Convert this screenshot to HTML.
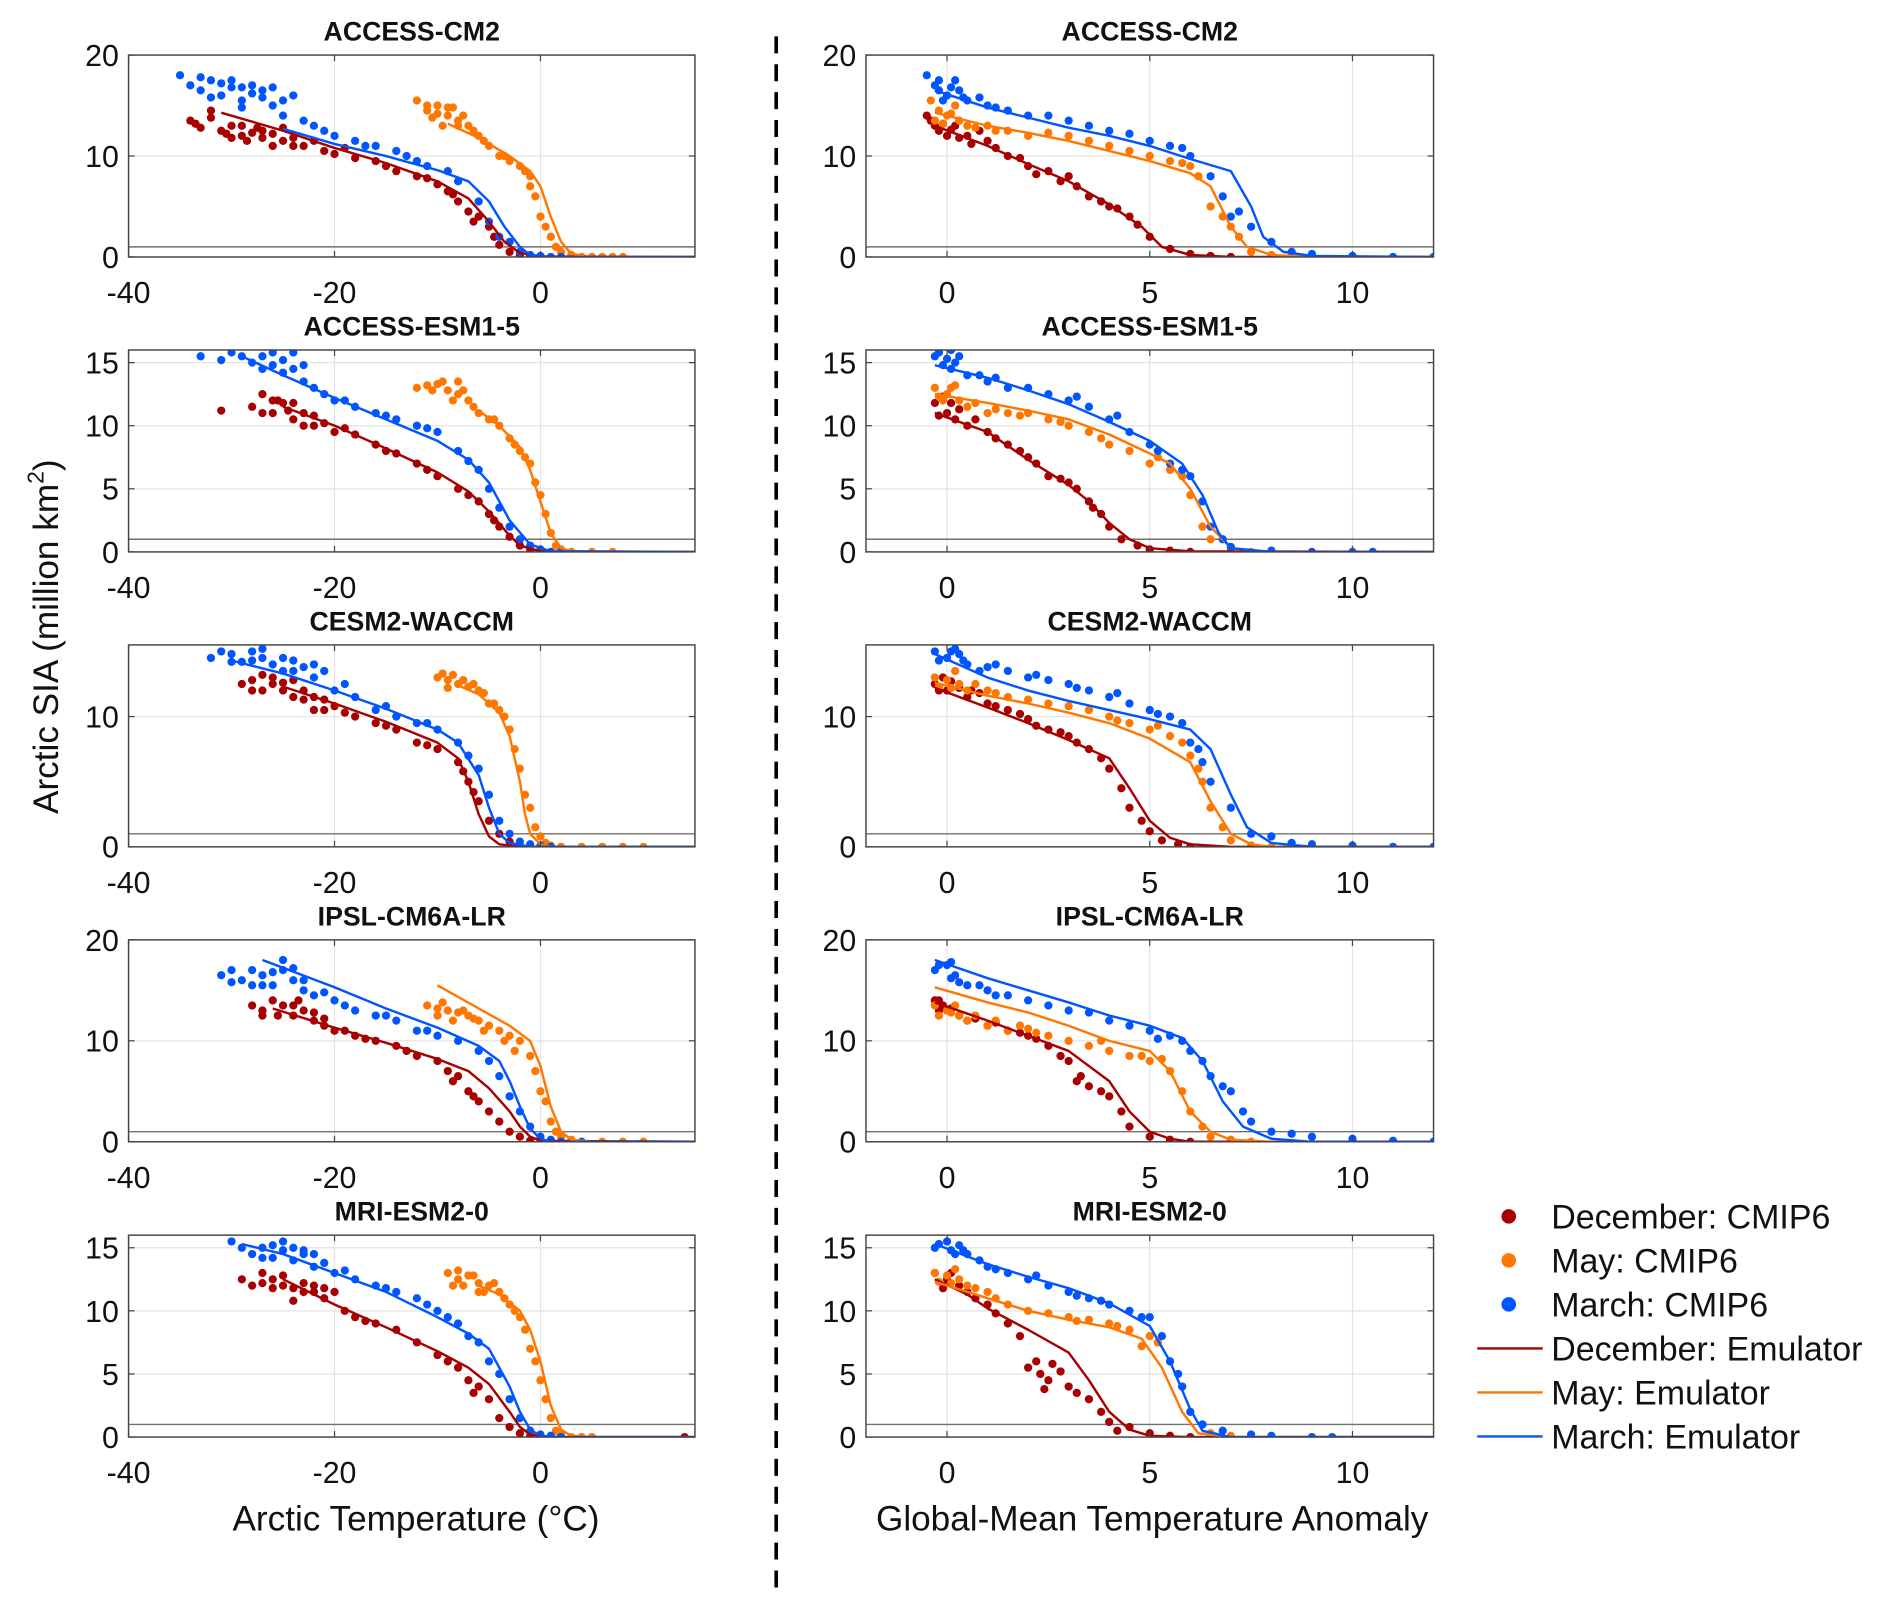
<!DOCTYPE html>
<html><head><meta charset="utf-8"><style>
html,body{margin:0;padding:0;background:#fff;}
svg{display:block;}
text{font-family:"Liberation Sans",Arial,sans-serif;fill:#111;}
</style></head><body>
<svg id="chart" width="1892" height="1602" viewBox="0 0 1560 1321" preserveAspectRatio="none" xmlns="http://www.w3.org/2000/svg"></svg>
<script>
const modelNames=["ACCESS-CM2","ACCESS-ESM1-5","CESM2-WACCM","IPSL-CM6A-LR","MRI-ESM2-0"];
const yMaxes=[20,16,15.5,20,16];
const yTicks=[[0,10,20],[0,5,10,15],[0,10],[0,10,20],[0,5,10,15]];
const leftXTicks=[-40,-20,0];
const rightXTicks=[0,5,10];
const threshold=1;
// Left column (Arctic temperature) scatter points [x,y,...]
const leftDecPts=[
[-34,13.5,-33,12.8,-33.5,13.2,-32,14.5,-31,12.5,-30,13,-29,12,-28,12.3,-27,11.8,-26,12.2,-25,11.5,-24,11.8,-23,11,-21,10.5,-20,10.2,-18,9.8,-16,9.5,-14,8.5,-12,8,-10,7.2,-9,6.5,-8,5.5,-7,4.5,-6,4,-5,3,-4.5,2,-4,1.2,-3,0.5,-2,0.2,-1,0.1,-30.5,12.2,-28.5,11.5,-27.5,12.8,-26,11,-22,11.5,-32,13.8,-30,11.8,-29,13,-27,12.5,-25,12.8,-24,11,-19,10.8,-15,9,-11,7.8,-8.5,6.2,-6.5,3.5],
[-31,11.2,-28,11.5,-27,12.5,-26,11,-25,11.8,-24,10.5,-23,11,-22,10,-21,10.2,-20,9.5,-18,9.3,-16,8.5,-14,7.8,-12,7,-10,6,-8,5,-6,4,-5,3,-4,2,-3,1.2,-2,0.5,-1,0.2,0,0.05,-25.5,12,-24.5,11.2,-23,10,-27,11,-26,12,-24,11.8,-22,10.8,-19,9.8,-15,8,-11,6.5,-7,4.5,-4.5,2.5],
[-29,12.5,-28,12.8,-27,12,-26,12.5,-25,12,-24,11.5,-23,12,-22,11.5,-21,10.5,-20,10.8,-18,10,-16,9.5,-14,9,-12,8,-10,7.5,-8,6.5,-7,5,-6,3.5,-5,2,-4,1,-3,0.4,-2,0.1,-1,0,-27,13.2,-24,12.8,-22,10.5,-28,12,-26,13,-25,12.6,-23,11.3,-21,11.3,-19,10.3,-15,9.3,-11,7.8,-7.5,5.8,-6.5,4.2],
[-28,13.5,-27,13,-26,14,-25,13.5,-24,12.5,-23,13,-22,12,-21,11.5,-20,11,-18,10.5,-16,10,-14,9.5,-12,8.5,-10,8,-9,7,-8,6.5,-7,5,-6,4,-5,3,-4,2,-3,1,-2,0.5,-1,0.1,0,0,-25.5,12.5,-23.5,14,-27,12.5,-24,13.5,-22,12.8,-21,12.2,-19,11,-17,10.2,-13,9,-8.5,6,-6.5,4.5],
[-29,12.5,-28,12,-27,13,-26,12.5,-25,12,-24,11.8,-23,12.2,-22,11.5,-21,11,-20,11.5,-19,10,-18,9.5,-16,9,-14,8.5,-12,7.5,-10,6.5,-8,5.5,-7,4.5,-6,4,-5,3,-4,1.5,-3,0.8,-2,0.3,-1,0.1,0,0,14,0,-24,10.8,-27,12.2,-26,11.8,-25,12.8,-23,11.5,-22,12,-21,11.8,-17,9.2,-9,6,-6.5,3.5]];
const leftMayPts=[
[-12,15.5,-11,14.5,-10,15,-9,14,-8,13.5,-8.5,14.8,-7,13,-6,12,-5,11,-4,10,-3,9.5,-2,9,-1,8,-1,7,-0.5,6,0,4,0.5,3,1,2,1.5,1,2,0.5,3,0.2,4,0,5,0,6,0,7,0,8,0,-10.5,13.8,-9.5,13,-11,15,-10,14.2,-9,14.8,-8,13,-7.5,14,-6.5,12.5,-5.5,11.5,-3.5,10,-1.5,8.5],
[-12,13,-10,13.3,-9,12.8,-8,12.5,-7,12,-6,11,-5,10.5,-4,10,-3,9,-2,8,-1,7,-0.5,5.5,0,4.5,0.5,3,1,1.5,1.5,0.5,2,0.2,3,0,5,0,7,0,-11,13.2,-8,13.5,-10.5,12.8,-9.5,13.5,-8.5,12,-7.5,12.8,-6.5,11.5,-4.5,10.5,-2.5,8.5,-1.5,7.5],
[-10,13,-9,12.8,-8,12.5,-7,12.3,-6,12,-5,11,-4,10.5,-3,9,-2.5,7.5,-2,6,-1.5,4,-1,3,-0.5,1.5,0,0.8,0.5,0.3,1,0.1,2,0,4,0,6,0,8,0,10,0,-9.5,13.3,-7.5,12.8,-9,12.2,-8.5,13.2,-6.5,12.5,-5.5,11.8,-4.5,11,-3.5,10],
[-11,13.5,-10,13.2,-9,13,-8,12.8,-7,12.5,-6,12,-5,11.5,-4,11,-3,10.5,-2,10,-1,8.5,-0.5,7,0,5,0.5,4,1,2,1.5,1,2,0.5,3,0.2,4,0,6,0,8,0,10,0,-8.5,12,-10,12.5,-9.5,13.8,-7.5,13,-6.5,12.2,-5.5,11,-3.5,10,-2.5,9],
[-9,13,-8,12.5,-7,12.8,-6,12.2,-5,12,-4,11.5,-3,10.5,-2,9.5,-1.5,8.5,-1,7,-0.5,6,0,4.5,0.5,3,1,1.5,1.5,0.5,2,0.2,3,0,4,0,5,0,-8.5,12,-6,11.5,-8,13.2,-7.5,12,-6.5,12.8,-5.5,11.5,-4.5,12.2,-3.5,11,-2.5,10]];
const leftMarPts=[
[-35,18,-34,17,-33,16.5,-32,17.5,-31,16,-30,16.8,-29,15.5,-28,16.2,-27,16.5,-26,15,-25,14,-24,16,-23,13.5,-22,13,-20,12,-18,11.5,-16,11,-14,10.5,-12,9.5,-11,9,-8,7.5,-6,5.5,-5,3.5,-4,2,-3,1.5,-2,0.5,-1,0.2,0,0.1,1,0,2,0,-30,17.5,-28,17,-26,16.8,-33,17.8,-31,17.2,-29,16.8,-27,15.8,-25,15.5,-29,14.8,-32,15.8,-21,12.5,-17,11,-13,10,-9,8.5],
[-33,15.5,-31,15.2,-30,15.8,-28,15,-27,15.5,-26,14.8,-25,15.2,-24,14.5,-23,13.5,-22,13,-20,12,-18,11.5,-16,11,-14,10.5,-12,10,-10,9.5,-8,8,-6,6.5,-5,5,-4,3.5,-3,2,-2,1,-1,0.5,0,0.2,1,0,2,0,-26,15.8,-24,15.8,-29,15.5,-27,14.5,-25,14.2,-23,14.8,-21,12.5,-19,12,-15,10.8,-11,9.8,-7,7.2],
[-32,14.5,-31,15,-30,14.8,-29,14.2,-28,15,-27,14.5,-26,14,-25,13.5,-24,14.3,-23,13.8,-22,13,-21,13.5,-20,12,-18,11.5,-16,10.5,-14,10,-12,9.5,-10,9,-8,8,-6,6,-5,4,-4,2,-3,1,-2,0.4,-1,0.2,0,0.1,1,0,-30,14.2,-28,14.3,-27,15.2,-25,14.5,-24,13.5,-22,14,-19,12.5,-15,10.8,-11,9.5,-7,7],
[-31,16.5,-30,17,-29,16,-28,17,-27,16.5,-26,15.5,-25,17,-24,16,-23,15,-22,14.5,-20,14,-18,13,-16,12.5,-14,12,-12,11,-10,10.5,-8,10,-6,9,-5,8,-4,6.5,-3,4.5,-2,3,-1,1.5,0,0.5,1,0.2,2,0,4,0,-25,18,-27,15.5,-30,15.8,-28,15.5,-26,16.8,-24,17.2,-23,16,-21,14.8,-19,13.5,-15,12.5,-11,11],
[-30,15.5,-28,14.5,-27,15,-26,14.2,-25,14.8,-24,14,-23,14.5,-22,13.5,-21,13.8,-20,13,-18,12.5,-16,12,-14,11.5,-12,11,-10,10,-8,9,-7,8,-6,7.5,-5,6,-4,5,-3,3,-2,1.5,-1,0.5,0,0.2,1,0.1,2,0,-25,15.5,-23,14.8,-29,15,-27,14.2,-26,15.2,-24,15,-22,14.5,-19,13.2,-15,11.8,-11,10.5,-9,9.5]];
const leftDecLine=[
[-31,14.3,-25,12.5,-20,10.8,-15,9.3,-10,7.5,-7,5.8,-5,3.5,-3.5,1.5,-2,0.4,0,0.05,15,0],
[-25,11.5,-20,10,-15,8.2,-10,6.3,-7,4.8,-5,3.2,-3,1.3,-2,0.5,0,0.05,15,0],
[-25,12.3,-20,11,-15,9.6,-10,8,-8,6.8,-7,5,-6,2.5,-5,0.8,-4,0.2,-2,0,15,0],
[-26,13.2,-20,11.3,-15,9.8,-10,8.2,-7,7,-5,5.3,-3,3,-2,1.5,-1,0.5,0,0.1,15,0],
[-25,12.5,-20,10.5,-15,8.7,-10,6.8,-7,5.5,-5,4.2,-3,2,-2,0.8,-1,0.2,1,0,15,0]];
const leftMayLine=[
[-9,13.2,-6,11.8,-3,10,-1,8.5,0,7,1,4,2,1.5,3,0.3,5,0,15,0],
[-6,11.2,-4,10,-2,8.3,-1,6.5,0,4,1,1.5,2,0.3,3,0.05,15,0],
[-8,12.4,-6,11.7,-4,10.3,-3,8.5,-2,5,-1.5,2.5,-1,1,0,0.2,1,0,15,0],
[-10,15.5,-6,13.2,-3,11.5,-1,10,0,7.5,1,3.5,2,1,3,0.2,5,0,15,0],
[-6,12,-4,11.3,-2,10,-1,8.5,0,6,1,2.5,2,0.6,3,0.1,5,0,15,0]];
const leftMarLine=[
[-25,12.7,-20,11.2,-15,10,-10,8.6,-7,7.5,-5,5.5,-3.5,3,-2,1,-1,0.2,1,0,15,0],
[-29,15.5,-25,14,-20,12.2,-15,10.5,-10,8.8,-7,7.3,-5,5.5,-3,2.5,-1,0.6,1,0.05,15,0],
[-30,14.3,-25,13.3,-20,12,-15,10.6,-10,9,-8,8,-6,5.5,-5,3,-4,1,-3,0.3,-1,0,15,0],
[-27,18,-20,15.3,-15,13.2,-10,11.3,-6,9.5,-4,8,-3,6,-2,3.5,-1,1.3,0,0.3,1,0,15,0],
[-29,15.3,-25,14.5,-20,13,-15,11.5,-10,9.5,-7,8.2,-5,7,-3,4,-2,2,-1,0.6,0,0.1,2,0,15,0]];
// Right column (global-mean temperature anomaly)
const rightDecPts=[
[-0.5,14,-0.3,13,-0.2,12.5,0,12,0.2,13,0.5,12,1,11.5,1.5,10,2,9,2.5,8.5,3,8,3.5,6,4,5,4.5,4,5,2,5.5,0.8,6,0.3,6.5,0.1,7,0,8,0,-0.4,13.5,0.3,11.8,0.8,12.5,-0.1,13.2,0.1,12.6,0.6,11.2,1.2,10.8,1.8,9.8,2.2,8.2,2.8,7.5,3.2,7,3.8,5.5,4.2,4.8,4.7,3.2],
[-0.3,11.8,0,11,0.2,10.5,0.5,10,1,9.5,1.5,8.5,2,7.5,2.5,6,3,5.5,3.5,4,3.8,3,4,2,4.3,1,4.7,0.5,5,0.2,5.5,0.1,6,0,-0.1,12.3,0.3,11.3,-0.2,10.8,0.1,11.8,0.7,10.5,1.2,9,1.8,8,2.2,7,2.8,5.8,3.2,5,3.6,3.5],
[-0.3,12.5,0,12,0.3,12.2,0.5,11.5,1,11,1.5,10.5,2,9.8,2.5,9,3,8.5,3.5,7.5,4,6,4.3,4.5,4.5,3,4.8,2,5,1.2,5.3,0.5,5.7,0.2,6,0,-0.1,13,0.8,11.8,-0.2,12,0.1,12.7,0.6,12,1.2,10.8,1.8,10.2,2.2,9.3,2.8,8.8,3.2,8,3.8,6.8],
[-0.3,14,-0.1,13.5,0,13,0.3,12.5,0.5,12,1,11.5,1.5,11,2,10.5,2.5,9.5,3,8,3.2,6,3.5,5.5,4,4.5,4.3,3,4.5,1.5,5,0.5,5.5,0.2,6,0,-0.2,13,-0.2,14,0.1,13.2,0.7,12.2,1.2,11.8,1.8,10.8,2.2,10.2,2.8,8.5,3.3,6.5,3.8,5],
[-0.3,13,0,12.5,0.3,12,0.5,11.5,1,10.5,1.5,9,1.8,8,2,5.5,2.3,5,2.5,4.5,2.8,5.2,3,4,3.5,3,3.8,2,4,1.2,4.5,0.8,5,0.3,5.5,0.1,6,0,6.5,0,-0.1,11.8,0.1,13,0.7,11,1.2,9.8,2.2,6,2.6,5.8,2.4,3.8,3.2,3.5,4.2,0.5]];
const rightMayPts=[
[-0.4,15.5,-0.2,14.5,0,14,0.5,13,1,13,1.5,12.5,2,12,3,12,3.5,11.5,4,11,5,10,5.5,9.5,6,9,6.5,5,7,3,7.2,2,7.5,0.5,8,0.2,8.5,0,9,0,-0.3,13.5,0.2,15,-0.1,13.2,0.1,14.2,0.3,13.5,0.7,12.8,1.2,12.5,2.5,12.3,4.5,10.5,5.8,9.3,6.2,8,6.8,4],
[-0.3,13,0,12.5,0.3,12,0.5,11.5,1,11,1.5,11,2,11,2.5,10.5,3,10,3.5,9.5,4,8.5,4.5,8,5,7,5.5,6.5,6,4.5,6.3,2,6.5,1,7,0.2,7.5,0,-0.1,12,0.2,13.2,-0.2,12.3,0.1,13,0.7,11.8,1.2,11.3,1.8,10.8,2.8,10.3,3.8,9,5.2,7.5,5.8,6],
[-0.3,13,0,12.8,0.3,12.5,0.5,12,1,12,1.5,11.5,2,11.3,3,10.8,3.5,10.5,4,10,4.5,9.5,5,9,5.5,8.5,6,7,6.3,5,6.5,3,6.8,1.5,7,0.5,7.5,0.1,8,0,0.2,13.5,-0.2,12.3,0.1,12.2,0.7,12.5,1.2,11.8,2.5,11,4.2,9.7,5.2,9.3,5.8,8,6.2,6],
[-0.3,13.5,0,13,0.3,12.5,0.5,12,1,11.5,1.5,11,2,11.2,2.5,10.5,3,10,3.5,9.5,4,9,4.5,8.5,5,8,5.5,7,5.8,5,6,3,6.3,1.5,6.5,0.5,7,0.2,7.5,0,0.1,12.8,-0.2,12.5,0.2,13.5,0.7,12.5,1.2,12,1.8,11.5,2.2,10.8,3.8,10,4.8,8.5,5.3,8.2],
[-0.3,13,0,12.8,0.3,12.5,0.5,12,1,11.5,1.5,10.5,2,10,3,9.5,3.5,9.3,4,9,4.5,8.5,5,8,5.5,6,5.8,4,6,2,6.3,1,6.5,0.3,7,0.1,7.5,0,0.2,13.3,-0.2,12.3,0.1,12.2,0.7,11.8,1.2,11,2.5,9.8,3.2,9.2,4.2,8.8,4.8,7.2,5.2,7.5]];
const rightMarPts=[
[-0.5,18,-0.3,17,-0.2,16.5,0,16,0.3,16.5,0.5,15.5,1,15,1.5,14.5,2,14,3,13.5,4,12.5,5,11.5,5.5,11,6,10,6.5,8,6.8,6,7,4,7.5,3,8,1.5,8.5,0.5,9,0.3,10,0.1,11,0,12,0,0.2,17.5,-0.1,15.5,-0.2,17.5,0.1,16.8,0.4,15.8,0.8,15.8,1.2,14.8,2.5,14,3.5,13,4.5,12.2,5.8,10.8,7.2,4.5],
[-0.3,15.5,-0.1,14.8,0,15.3,0.2,15,0.5,14,1,13.5,1.5,13,2,13,3,12,3.5,11.5,4,10.5,4.5,9.5,5,8.5,5.5,7,6,6,6.3,4,6.5,2,6.8,1,7,0.4,8,0.1,9,0,10,0,10.5,0,0.1,16,-0.2,15.8,0.1,14.5,0.3,15.5,0.8,14,1.2,13.8,2.5,12.5,3.2,12.3,4.2,10.8,5.2,8,5.8,6.5],
[-0.3,15,0,14.5,0.3,14.8,0.5,14,1,13.8,1.5,13.5,2,13,2.5,12.8,3,12.5,3.5,12,4,11.5,4.5,11,5,10.5,5.5,10,5.8,9.5,6,8,6.3,6.5,6.5,5,7,3,7.5,1,8,0.8,8.5,0.3,9,0.2,10,0.1,11,0,12,0,0.2,15.2,-0.2,14.3,0.1,15,0.4,14.3,0.8,13.5,1.2,14,2.2,13.2,3.2,12.2,4.2,11.8,5.2,10.2,6.2,7.5],
[-0.3,17,0,17.5,0.2,16.5,0.5,15.5,1,15,1.5,14.5,2,14,3,13,4,12,4.5,11.5,5,11,5.5,10.5,6,9,6.3,8,6.5,6.5,7,5,7.3,3,7.5,2,8,1,8.5,0.8,9,0.5,10,0.3,11,0.1,12,0,0.1,17.8,-0.2,17.5,0.1,16.2,0.3,15.8,0.8,15.5,1.2,14.5,2.5,13.5,3.5,12.8,5.2,10.2,5.8,10,6.8,5.5],
[-0.3,15,0,15.5,0.2,14.5,0.5,14.5,1,13.5,1.5,13,2,12.5,2.5,12,3,11.5,3.5,11,4,10.5,4.5,10,5,9.5,5.3,8,5.5,6,5.8,4,6,2,6.3,1,6.8,0.5,7.5,0.2,8,0.1,9,0,9.5,0,0.3,15.2,-0.2,15.3,0.1,14.8,0.4,14.8,0.8,14,1.2,13.3,2.2,12.8,3.2,11.2,3.8,10.8,4.8,9.5,5.7,5]];
const rightDecLine=[
[-0.3,13,1,11,2,9.2,3,7.5,4,5.2,4.8,3,5.3,1,6,0.2,7,0,12,0],
[-0.3,11,1,9.5,2,7.3,3,5.3,3.5,4,4,2.3,4.5,1,5,0.3,6,0.05,12,0],
[-0.3,12.2,1,10.7,2,9.5,3,8.2,4,6.8,4.5,4.5,5,2,5.5,0.7,6,0.2,7,0,12,0],
[-0.3,13.8,1,12,2,10.5,3,9,4,6,4.5,3,5,1,5.5,0.3,6,0,12,0],
[-0.3,12.5,0.5,11.3,1,10.2,2,8.5,3,6.7,3.5,4.5,4,2,4.5,0.6,5,0.1,6,0,12,0]];
const rightMayLine=[
[-0.3,14.3,1,13,2,12.3,3,11.5,4,10.5,5,9.5,6,8.3,6.5,7,7,3,7.4,1,8,0.2,9,0,12,0],
[-0.3,12.5,1,11.8,2,11.2,3,10.5,4,9.3,5,7.8,5.5,7,6,5,6.5,2,7,0.3,8,0,12,0],
[-0.3,12.6,1,11.6,2,11,3,10.3,4,9.5,5,8.3,6,6.5,6.5,3.5,7,1,7.5,0.2,8,0,12,0],
[-0.3,15.3,1,13.8,2,12.8,3,11.5,4,10,5,9,5.5,7,6,3,6.5,1,7,0.2,8,0,12,0],
[-0.3,12.3,1,11,2,10,3,9.3,4,8.7,4.8,7.8,5.3,5.5,5.8,2,6.2,0.3,7,0,12,0]];
const rightMarLine=[
[-0.3,16.5,1,14.8,2,13.8,3,12.8,4,12,5,11,6,9.7,7,8.5,7.5,5,7.8,2,8.3,0.5,9,0.1,12,0],
[-0.3,14.8,1,13.8,2,12.8,3,11.7,4,10.3,5,8.8,5.8,7,6.3,4.5,6.7,1.5,7,0.3,8,0,12,0],
[-0.3,14.8,1,13,2,12,3,11.2,4,10.5,5,9.8,6,9,6.5,7.5,7,4,7.4,1.5,8,0.3,9,0,12,0],
[-0.3,18,1,16.2,2,15,3,13.8,4,12.5,5,11.5,5.8,10.3,6.3,8,6.8,4,7.3,1.5,8,0.3,9,0,12,0],
[-0.3,15.3,1,13.7,2,12.7,3,11.8,4,10.6,5,8.8,5.5,6,6,2.2,6.3,0.5,7,0,12,0]];
const legendLabels=["December: CMIP6","May: CMIP6","March: CMIP6","December: Emulator","May: Emulator","March: Emulator"];

const DEC="#a80000",MAY="#ff7700",MAR="#0055ff";
const NS="http://www.w3.org/2000/svg";
const svg=document.getElementById('chart');
function mk(tag,attrs,parent,txt){const e=document.createElementNS(NS,tag);for(const k in attrs)e.setAttribute(k,attrs[k]);if(txt!==undefined)e.textContent=txt;(parent||svg).appendChild(e);return e;}

const rowTop=[45.4,288.6,531.8,775,1018.5];
const rowH=166.5;
const cols=[{x0:106,x1:573,xmin:-40,xmax:15,ticks:leftXTicks,dec:leftDecPts,may:leftMayPts,mar:leftMarPts,dl:leftDecLine,ml:leftMayLine,rl:leftMarLine,side:'left'},
            {x0:714,x1:1182,xmin:-2,xmax:12,ticks:rightXTicks,dec:rightDecPts,may:rightMayPts,mar:rightMarPts,dl:rightDecLine,ml:rightMayLine,rl:rightMarLine,side:'right'}];

cols.forEach((c,ci)=>{
  for(let r=0;r<5;r++){
    const top=rowTop[r],bot=top+rowH,ymax=yMaxes[r];
    const sx=v=>c.x0+(v-c.xmin)/(c.xmax-c.xmin)*(c.x1-c.x0);
    const sy=v=>bot-v/ymax*rowH;
    const g=mk('g',{});
    
    
    mk('rect',{x:c.x0,y:top,width:c.x1-c.x0,height:rowH,fill:'#fff'},g);
    const clipId='clip'+ci+r;
    const cp=mk('clipPath',{id:clipId},g);mk('rect',{x:c.x0,y:top,width:c.x1-c.x0,height:rowH},cp);
    c.ticks.forEach(t=>{const gl=mk('line',{x1:sx(t),x2:sx(t),y1:top,y2:bot,stroke:'#e3e3e3','stroke-width':1},g);});
    yTicks[r].forEach(t=>{const gl=mk('line',{x1:c.x0,x2:c.x1,y1:sy(t),y2:sy(t),stroke:'#e3e3e3','stroke-width':1},g);});
    const th=mk('line',{x1:c.x0,x2:c.x1,y1:sy(threshold),y2:sy(threshold),stroke:'#707070','stroke-width':1.2},g);
    
    const dg=mk('g',{'clip-path':'url(#'+clipId+')'},g);
    [[c.dec[r],DEC,'december'],[c.may[r],MAY,'may'],[c.mar[r],MAR,'march']].forEach(([pts,col,nm])=>{
      for(let i=0;i<pts.length;i+=2){
        const d=mk('circle',{cx:sx(pts[i]),cy:sy(pts[i+1]),r:3.4,fill:col},dg);
        
        
      }
    });
    [[c.dl[r],DEC,'december'],[c.ml[r],MAY,'may'],[c.rl[r],MAR,'march']].forEach(([pts,col,nm])=>{
      let p='';for(let i=0;i<pts.length;i+=2)p+=(i?'L':'M')+sx(pts[i]).toFixed(1)+','+sy(pts[i+1]).toFixed(1);
      const l=mk('path',{d:p,fill:'none',stroke:col,'stroke-width':2,'stroke-linejoin':'round'},dg);
      
      
    });
    mk('rect',{x:c.x0,y:top,width:c.x1-c.x0,height:rowH,fill:'none',stroke:'#444','stroke-width':1.2},g);
    yTicks[r].forEach(t=>{
      mk('line',{x1:c.x0,x2:c.x0+5,y1:sy(t),y2:sy(t),stroke:'#444'},g);
      mk('line',{x1:c.x1,x2:c.x1-5,y1:sy(t),y2:sy(t),stroke:'#444'},g);
      const tl=mk('text',{x:c.x0-8,y:sy(t)+9,'text-anchor':'end','font-size':25},g,String(t));
      
    });
    c.ticks.forEach(t=>{
      mk('line',{x1:sx(t),x2:sx(t),y1:bot,y2:bot-5,stroke:'#444'},g);
      mk('line',{x1:sx(t),x2:sx(t),y1:top,y2:top+5,stroke:'#444'},g);
      const tl=mk('text',{x:sx(t),y:bot+38,'text-anchor':'middle','font-size':25},g,String(t));
      
    });
    const tt=mk('text',{x:(c.x0+c.x1)/2,y:top-12,'text-anchor':'middle','font-size':22,'font-weight':'bold'},g,modelNames[r]);
    
  }
});
let a=mk('text',{x:343,y:1262,'text-anchor':'middle','font-size':29},svg,'Arctic Temperature (°C)');

a=mk('text',{x:950,y:1262,'text-anchor':'middle','font-size':29},svg,'Global-Mean Temperature Anomaly');

a=mk('text',{x:48,y:525,'text-anchor':'middle','font-size':29,transform:'rotate(-90 48 525)'},svg);

a.innerHTML='Arctic SIA (million km<tspan dy="-12" font-size="19">2</tspan><tspan dy="12">)</tspan>';
a=mk('line',{x1:640,x2:640,y1:30,y2:1312,stroke:'#000','stroke-width':3,'stroke-dasharray':'14 9'});

const lg=mk('g',{});

const legCols=[DEC,MAY,MAR,DEC,MAY,MAR];
legendLabels.forEach((lab,i)=>{
  const y=1003+i*36.3;
  const e=mk('g',{},lg);
  
  
  if(i<3)mk('circle',{cx:1244,cy:y,r:6,fill:legCols[i]},e);
  else mk('line',{x1:1218,x2:1272,y1:y,y2:y,stroke:legCols[i],'stroke-width':2},e);
  mk('text',{x:1279,y:y+10,'font-size':28},e,lab);
});
</script>
</body></html>
